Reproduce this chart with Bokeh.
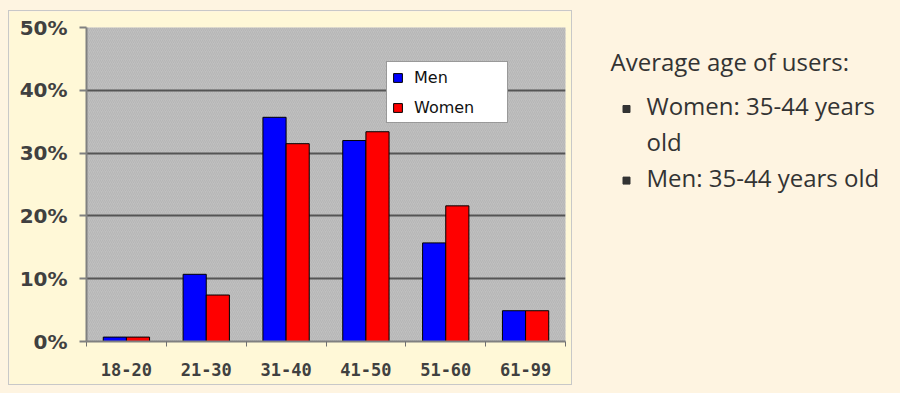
from bokeh.plotting import figure
from bokeh.layouts import row
from bokeh.models import (ColumnDataSource, Legend, LegendItem, FixedTicker, PrintfTickFormatter,
                          Range1d, BoxAnnotation, Label)
from bokeh.transform import dodge
from bokeh.embed import file_html
from bokeh.resources import INLINE

# ---- data ----
age_groups = ["18-20", "21-30", "31-40", "41-50", "51-60", "61-99"]
men_pct = [0.7, 10.7, 35.7, 32.0, 15.7, 4.9]
women_pct = [0.7, 7.4, 31.5, 33.4, 21.6, 4.9]
y_ticks = [0, 10, 20, 30, 40, 50]
series_names = ["Men", "Women"]
series_colors = ["#0000FF", "#FF0000"]
note_title = "Average age of users:"
note_items = [["Women: 35-44 years", "old"], ["Men: 35-44 years old"]]

PAGE_BG = "#FEF4E1"
CHART_BG = "#FFF8D7"
AXIS_GRAY = "#808080"

centers = [i + 0.5 for i in range(len(age_groups))]
src = ColumnDataSource(dict(x=centers, men=men_pct, women=women_pct, label=age_groups))

FIG_H = 373
MARGIN_TOP = 11
MARGIN_BOTTOM = 9
BORDER_TOP = 16
BORDER_BOTTOM = 43
FRAME_TOP = MARGIN_TOP + BORDER_TOP              # page y of frame top
FRAME_BOTTOM = MARGIN_TOP + FIG_H - BORDER_BOTTOM  # page y of frame bottom

p = figure(width=562, height=FIG_H,
           x_range=Range1d(0, len(age_groups)), y_range=Range1d(y_ticks[0], y_ticks[-1]),
           output_backend="svg", toolbar_location=None,
           min_border_left=77, min_border_right=6,
           min_border_top=BORDER_TOP, min_border_bottom=BORDER_BOTTOM,
           background_fill_color="#C0C0C0", border_fill_color=CHART_BG, outline_line_color=None,
           margin=(MARGIN_TOP, 1, MARGIN_BOTTOM, 9), styles={"outline": "1px solid #C8C8C8"})

# hatch texture of the plot area
p.add_layout(BoxAnnotation(fill_color="#C0C0C0", fill_alpha=0.0, line_color=None,
                           hatch_pattern="/", hatch_color="#B0B0B0", hatch_alpha=0.7,
                           hatch_scale=4, hatch_weight=1, level="image"))

bar_w = 0.29
r_men = p.vbar(x=dodge("x", -bar_w / 2), top="men", width=bar_w, source=src,
               fill_color=series_colors[0], line_color="black", line_width=1)
r_women = p.vbar(x=dodge("x", bar_w / 2), top="women", width=bar_w, source=src,
                 fill_color=series_colors[1], line_color="black", line_width=1)

# x axis
p.xaxis.ticker = FixedTicker(ticks=centers, minor_ticks=list(range(len(age_groups) + 1)))
p.xaxis.major_label_overrides = {c: g for c, g in zip(centers, age_groups)}
p.xaxis.major_tick_line_color = None
p.xaxis.major_tick_out = 0
p.xaxis.major_tick_in = 0
p.xaxis.minor_tick_out = 5
p.xaxis.minor_tick_in = 0
p.xaxis.minor_tick_line_color = "#707070"
p.xaxis.minor_tick_line_width = 1
p.xaxis.axis_line_color = AXIS_GRAY
p.xaxis.axis_line_width = 2
p.xaxis.major_label_standoff = 16
p.xaxis.major_label_text_font = "DejaVu Sans Mono"
p.xaxis.major_label_text_font_style = "bold"
p.xaxis.major_label_text_font_size = "17px"
p.xaxis.major_label_text_color = "#404040"

# y axis
p.yaxis.ticker = FixedTicker(ticks=y_ticks)
p.yaxis.formatter = PrintfTickFormatter(format="%d%%")
p.yaxis.major_tick_out = 7
p.yaxis.major_tick_in = 0
p.yaxis.major_tick_line_color = AXIS_GRAY
p.yaxis.major_tick_line_width = 2
p.yaxis.minor_tick_line_color = None
p.yaxis.axis_line_color = AXIS_GRAY
p.yaxis.axis_line_width = 2
p.yaxis.major_label_standoff = 12
p.yaxis.major_label_text_font = "DejaVu Sans"
p.yaxis.major_label_text_font_style = "bold"
p.yaxis.major_label_text_font_size = "20px"
p.yaxis.major_label_text_color = "#404040"

p.xgrid.visible = False
p.ygrid.ticker = FixedTicker(ticks=y_ticks[1:-1])
p.ygrid.grid_line_color = "#555555"
p.ygrid.grid_line_width = 2

legend = Legend(items=[LegendItem(label=series_names[0], renderers=[r_men]),
                       LegendItem(label=series_names[1], renderers=[r_women])],
                location=(300, 218), orientation="vertical", padding=5, spacing=10, margin=0,
                glyph_width=11, glyph_height=11, label_height=20, label_width=88, label_standoff=11,
                label_text_font="DejaVu Sans", label_text_font_size="16px", label_text_color="#111111",
                border_line_color="#333333", border_line_width=1,
                background_fill_color="white", background_fill_alpha=1)
p.add_layout(legend)

# ---- right-hand note: same height/margins/borders as the chart, data y = page y ----
q = figure(width=328, height=FIG_H, x_range=Range1d(572, 900),
           y_range=Range1d(FRAME_BOTTOM, FRAME_TOP),
           output_backend="svg", toolbar_location=None,
           min_border_left=0, min_border_right=0,
           min_border_top=BORDER_TOP, min_border_bottom=BORDER_BOTTOM,
           x_axis_type=None, y_axis_type=None,
           background_fill_color=PAGE_BG, border_fill_color=PAGE_BG, outline_line_color=None,
           margin=(MARGIN_TOP, 0, MARGIN_BOTTOM, 0))
q.grid.visible = False

TEXT_COLOR = "#333333"
FONT = "Open Sans"
FS = "24px"
q.add_layout(Label(x=610, y=60.5, text=note_title, text_font=FONT, text_font_size=FS,
                   text_color=TEXT_COLOR, text_baseline="alphabetic"))
baseline = 105.0
line_h = 35.8
bx, by = [], []
for item in note_items:
    bx.append(626)
    by.append(baseline + 3.5)
    for line in item:
        q.add_layout(Label(x=646, y=baseline, text=line, text_font=FONT, text_font_size=FS,
                           text_color=TEXT_COLOR, text_baseline="alphabetic"))
        baseline += line_h
q.scatter(x=bx, y=by, marker="square", size=7, color=TEXT_COLOR)

layout = row(p, q, styles={"background-color": PAGE_BG})
open("out.html", "w").write(file_html(layout, INLINE))
